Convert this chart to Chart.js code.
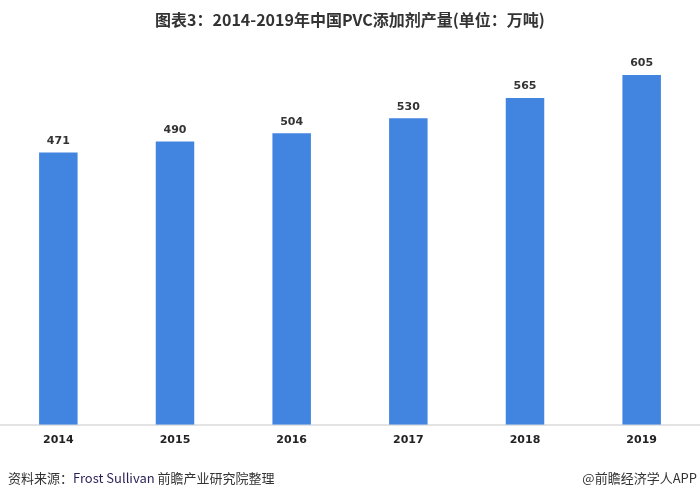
<!DOCTYPE html>
<html>
<head>
<meta charset="utf-8">
<script src="https://cdn.jsdelivr.net/npm/chart.js@4"></script>
<style>
    body { margin: 0; background: #fff; }
    #wrap { position: relative; width: 700px; height: 500px; }
    #titre { position: absolute; top: 7px; left: 0; width: 700px; text-align: center;
        font: bold 16px "Noto Sans CJK SC", sans-serif; color: #333; }
    #source { position: absolute; top: 468px; left: 8px; font: 13px "Noto Sans CJK SC", sans-serif; color: #333; }
    #source span { color: #2b1f55; }
    #app { position: absolute; top: 468px; right: 3px; font: 13px "Noto Sans CJK SC", sans-serif; color: #333; }
</style>
</head>
<body>
<div id="wrap">
    <canvas id="barChart" width="700" height="500"></canvas>
    <div id="titre">图表3：2014-2019年中国PVC添加剂产量(单位：万吨)</div>
    <div id="source">资料来源：<span>Frost Sullivan</span> 前瞻产业研究院整理</div>
    <div id="app">@前瞻经济学人APP</div>
</div>
<script>
var annees = ['2014', '2015', '2016', '2017', '2018', '2019'];
var production = [471, 490, 504, 530, 565, 605];

// valeurs au-dessus des barres
var etiquettes = {
    id: 'etiquettes',
    afterDatasetsDraw(chart) {
        var ctx = chart.ctx;
        ctx.save();
        ctx.font = 'bold 11px "DejaVu Sans", sans-serif';
        ctx.fillStyle = '#333';
        ctx.textAlign = 'center';
        ctx.textBaseline = 'bottom';
        chart.getDatasetMeta(0).data.forEach((bar, i) => {
            ctx.fillText(production[i], bar.x, bar.y - 6);
        });
        ctx.restore();
    }
};

new Chart(document.getElementById('barChart'), {
    type: 'bar',
    data: {
        labels: annees,
        datasets: [{
            data: production,
            backgroundColor: '#4185e0',
            barPercentage: 0.33,
            categoryPercentage: 1
        }]
    },
    options: {
        responsive: false,
        animation: false,
        layout: { padding: { top: 20, bottom: 52, left: 0, right: 0 } },
        plugins: { legend: { display: false }, tooltip: { enabled: false } },
        scales: {
            x: {
                grid: { display: false },
                border: { color: '#e3e3e3', width: 2 },
                ticks: { color: '#222', font: { weight: 'bold', size: 11, family: 'DejaVu Sans' }, padding: 1 }
            },
            y: {
                display: false,
                min: 0,
                max: 700
            }
        }
    },
    plugins: [etiquettes]
});
</script>
</body>
</html>
